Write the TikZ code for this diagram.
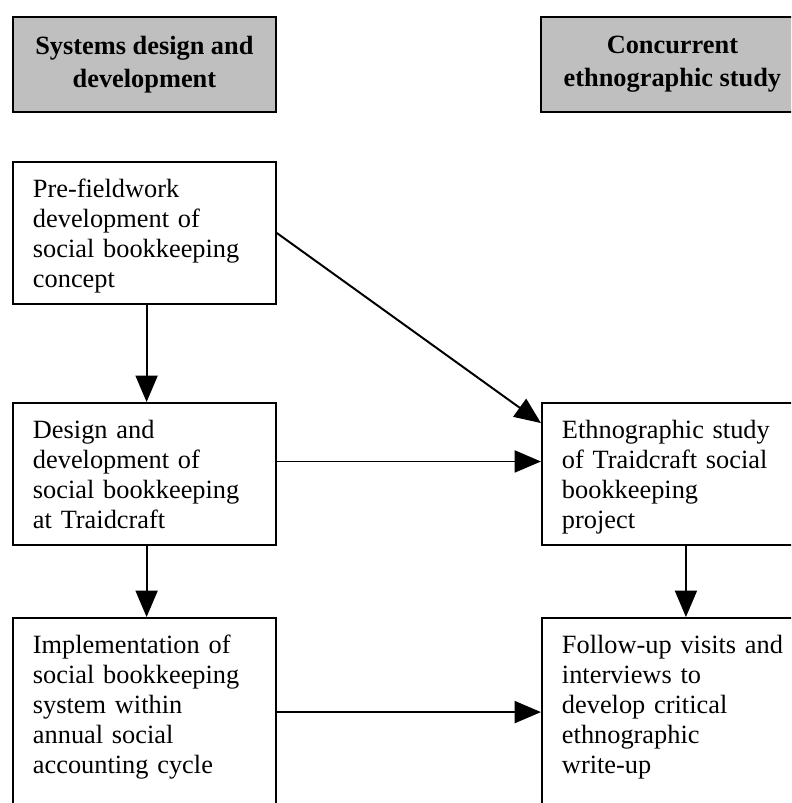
\documentclass[tikz,border=0pt]{standalone}
\usepackage{fontspec}
\setmainfont{Liberation Serif}
\usetikzlibrary{arrows.meta}

\tikzset{
  hdrbox/.style={draw, line width=0.9pt, fill=black!25, anchor=north west,
    minimum width=119.7pt, minimum height=43.3pt, inner sep=0pt,
    align=center, font=\bfseries\fontsize{12}{15}\selectfont},
  bodybox/.style={draw, line width=0.9pt, anchor=north west, align=left,
    text width=101.5pt, inner xsep=9.1pt, inner ysep=5pt,
    font=\fontsize{12}{13.66}\selectfont,
    execute at begin node={\rule{0pt}{11pt}},
    execute at end node={\rule[-2.7pt]{0pt}{0pt}}},
  cutbox/.style={bodybox, execute at end node={\rule[-30pt]{0pt}{0pt}}},
  conn/.style={-{Triangle[length=12pt,width=10pt]}, line width=0.9pt}
}

\begin{document}
\begin{tikzpicture}[x=0.016cm, y=-0.016cm]

 \useasboundingbox (0,0) rectangle (791,803);
 \clip (0,0) rectangle (791,803);

    % column headings
    \node[hdrbox] (syshdr) at (12,16) {Systems design and\\development};
    \node[hdrbox] (ethhdr) at (540,16) {Concurrent\\ethnographic study};

    % left column
    \node[bodybox] (pre) at (12,161)
      {Pre-fieldwork\\development of\\social bookkeeping\\concept};
    \node[bodybox] (design) at (12,402)
      {Design and\\development of\\social bookkeeping\\at Traidcraft};
    \node[cutbox] (impl) at (12,617)
      {Implementation of\\social bookkeeping\\system within\\annual social\\accounting cycle};

    % right column
    \node[bodybox] (ethno) at (541,402)
      {Ethnographic study\\of Traidcraft social\\bookkeeping\\project};
    \node[cutbox] (follow) at (541,617)
      {Follow-up visits and\\interviews to\\develop critical\\ethnographic\\write-up};

    \draw[conn] ([xshift=1pt]pre.south) -- ([xshift=1pt]design.north);
    \draw[conn] ([xshift=1pt]design.south) -- ([xshift=1pt]impl.north);
    \draw[conn] (pre.east) -- ([yshift=-9.6pt]ethno.north west);
    \draw[conn] ([yshift=5.7pt]design.east) -- ([yshift=5.7pt]ethno.west);
    \draw[conn] ([yshift=-43.3pt]impl.north east) -- ([yshift=-43.3pt]follow.north west);
    \draw[conn] ([xshift=5.7pt]ethno.south) -- ([xshift=5.7pt]follow.north);
  \end{tikzpicture}
\end{document}
